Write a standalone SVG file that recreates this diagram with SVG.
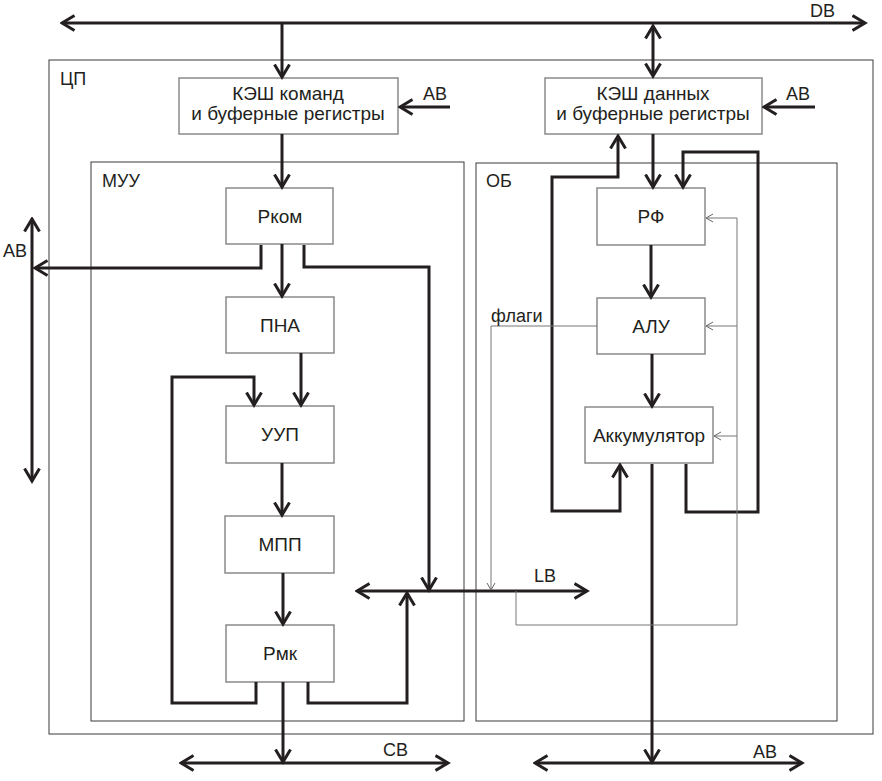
<svg xmlns="http://www.w3.org/2000/svg" width="882" height="781" viewBox="0 0 882 781">
<style>
text{font-family:"Liberation Sans",Arial,sans-serif;fill:#231f20}
.lbl{font-size:18px}
.bl{font-size:19px;text-anchor:middle}
.ct{font-size:19px;text-anchor:middle}
.cont{fill:none;stroke:#3a3a3a;stroke-width:1}
.box{fill:#fff;stroke:#8a8a8a;stroke-width:1.5}
.th{fill:none;stroke:#231f20;stroke-width:3}
.tn{fill:none;stroke:#777;stroke-width:1}
.ea{marker-end:url(#ah)}
.ba{marker-start:url(#ah);marker-end:url(#ah)}
.et{marker-end:url(#at)}
</style>
<defs>
<marker id="ah" markerUnits="userSpaceOnUse" viewBox="0 0 16 18" markerWidth="16" markerHeight="18" refX="13.5" refY="9" orient="auto-start-reverse">
<path d="M1,1.5 L13.5,9 L1,16.5" fill="none" stroke="#231f20" stroke-width="3"/>
</marker>
<marker id="at" markerUnits="userSpaceOnUse" viewBox="0 0 10 10" markerWidth="10" markerHeight="10" refX="8" refY="5" orient="auto">
<path d="M1,1 L8,5 L1,9" fill="none" stroke="#666" stroke-width="1"/>
</marker>
</defs>

<g id="containers">
<rect id="cp" class="cont" x="49" y="60" width="824" height="674"/>
<rect id="muu" class="cont" x="91" y="162" width="373" height="559"/>
<rect id="ob" class="cont" x="476" y="163" width="361" height="558"/>
<text class="lbl" x="60" y="85">ЦП</text>
<text class="lbl" x="102" y="187">МУУ</text>
<text class="lbl" x="486" y="187">ОБ</text>
</g>

<g id="icache"><rect class="box" x="179" y="78" width="219" height="56"/>
<text class="ct" x="288" y="100">КЭШ команд</text><text class="ct" x="288" y="120">и буферные регистры</text></g>
<g id="dcache"><rect class="box" x="545" y="78" width="217" height="56"/>
<text class="ct" x="653" y="100">КЭШ данных</text><text class="ct" x="653" y="120">и буферные регистры</text></g>
<g id="rkom"><rect class="box" x="226" y="188" width="107" height="56"/><text class="bl" x="280" y="223">Рком</text></g>
<g id="pna"><rect class="box" x="226" y="297" width="108" height="56"/><text class="bl" x="280" y="332">ПНА</text></g>
<g id="uup"><rect class="box" x="226" y="406" width="108" height="57"/><text class="bl" x="280" y="441">УУП</text></g>
<g id="mpp"><rect class="box" x="225" y="516" width="109" height="57"/><text class="bl" x="280" y="551">МПП</text></g>
<g id="rmk"><rect class="box" x="226" y="625" width="108" height="57"/><text class="bl" x="280" y="660">Рмк</text></g>
<g id="rf"><rect class="box" x="597" y="188" width="108" height="57"/><text class="bl" x="651" y="223">РФ</text></g>
<g id="alu"><rect class="box" x="597" y="298" width="108" height="56"/><text class="bl" x="651" y="333">АЛУ</text></g>
<g id="acc"><rect class="box" x="585" y="407" width="128" height="56"/><text class="bl" x="649" y="442">Аккумулятор</text></g>

<g id="connectors">
<path class="th ba" d="M62,23 H865"/>
<path class="th ea" d="M282,23 V77"/>
<path class="th ba" d="M653,26 V76"/>
<path class="th ea" d="M450,107 H400"/>
<path class="th ea" d="M815,107 H764"/>
<path class="th ea" d="M282,134 V187"/>
<path class="th ea" d="M282,244 V296"/>
<path class="th ea" d="M261,245 V268 H35"/>
<path class="th ba" d="M32,219 V481"/>
<path class="th ea" d="M304,245 V267 H429 V590"/>
<path class="th ea" d="M301,353 V405"/>
<path class="th ea" d="M256,682 V703 H172 V377 H254 V405"/>
<path class="th ea" d="M282,463 V515"/>
<path class="th ea" d="M283,573 V624"/>
<path class="th ea" d="M308,682 V703 H407 V593"/>
<path class="th ea" d="M283,682 V762"/>
<path class="th ba" d="M181,763 H448"/>
<path class="th ba" d="M357,591 H587"/>
<path class="th ea" d="M653,134 V187"/>
<path class="th ba" d="M620,465 V511 H552 V177 H618 V136"/>
<path class="th ea" d="M686,464 V512 H758 V152 H683 V187"/>
<path class="th ea" d="M651,245 V297"/>
<path class="th ea" d="M652,354 V406"/>
<path class="th ea" d="M652,464 V762"/>
<path class="th ba" d="M535,763 H802"/>
<path class="tn et" d="M597,326 H491 V590"/>
<path class="tn et" d="M516,591 V625 H737 V218 H706"/>
<path class="tn et" d="M737,326 H706"/>
<path class="tn et" d="M737,436 H714"/>
</g>

<g id="labels">
<text class="lbl" x="810" y="17">DB</text>
<text class="lbl" x="423" y="100">AB</text>
<text class="lbl" x="786" y="100">AB</text>
<text class="lbl" x="3" y="257">AB</text>
<text class="lbl" x="491" y="322">флаги</text>
<text class="lbl" x="534" y="582">LB</text>
<text class="lbl" x="383" y="756">CB</text>
<text class="lbl" x="753" y="758">AB</text>
</g>
</svg>
